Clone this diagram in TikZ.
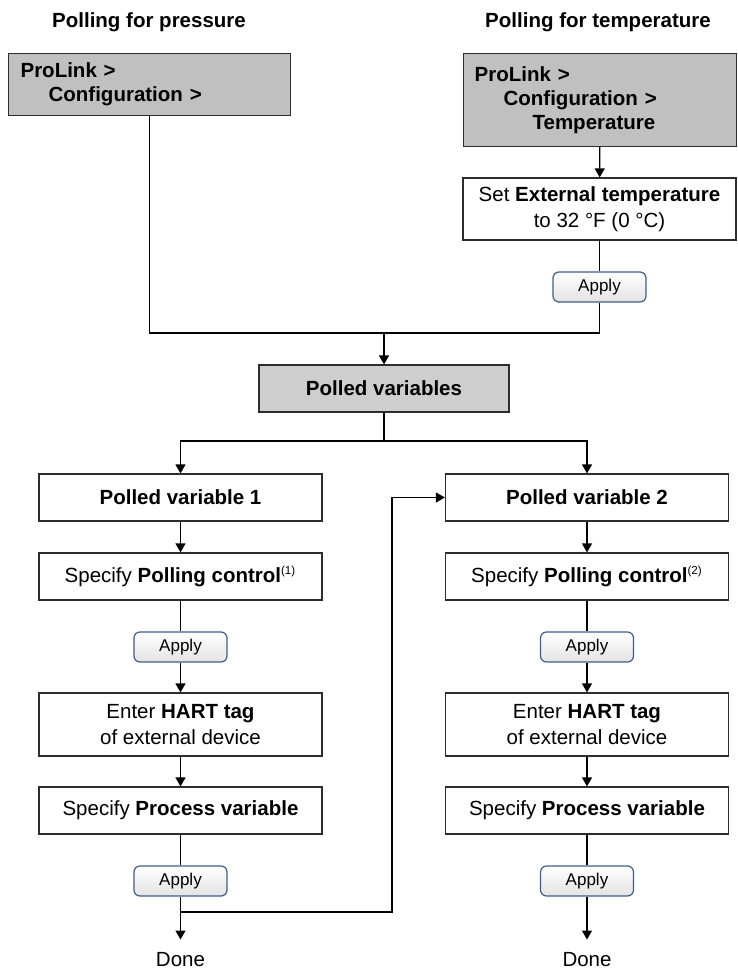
\documentclass[tikz,border=0pt]{standalone}
\usepackage{fontspec}
\setmainfont{Liberation Sans}
\usetikzlibrary{arrows.meta}
\definecolor{mongris}{RGB}{192,192,192}
\definecolor{mongrisclair}{RGB}{206,206,206}
\definecolor{monbleu}{RGB}{62,94,140}
\definecolor{montrait}{RGB}{45,45,45}
\newcommand{\taille}{\fontsize{10.25}{12}\selectfont}
\newcommand{\renvoi}[1]{\textsuperscript{\fontsize{5.8}{6}\selectfont(#1)}}
\tikzset{
	every node/.style={font=\taille},
	boite/.style={draw=montrait, line width=0.6pt, fill=white, minimum width=141.5pt, minimum height=23.5pt, align=center, inner sep=0pt, font=\fontsize{10.25}{13.25}\selectfont},
	menu/.style={draw=montrait, line width=0.6pt, fill=mongris, align=left, anchor=north west, inner xsep=6pt, inner ysep=0pt, font=\taille\bfseries},
	bouton/.style={draw=monbleu, line width=0.6pt, rounded corners=3pt, top color=white, bottom color=black!11, minimum width=46.5pt, minimum height=15pt, inner sep=0pt, font=\fontsize{8.5}{10}\selectfont},
	trait/.style={draw=black, line width=0.65pt},
	fleche/.style={trait, -{Triangle[width=5pt,length=4.5pt]}},
}

\begin{document}
\begin{tikzpicture}[x=0.5pt,y=-0.5pt]
	\useasboundingbox (0,0) rectangle (738,969);
	% Titres %
	\node[anchor=base, font=\taille\bfseries] (titrepression) at (149,27) {Polling for pressure};
	\node[anchor=base, font=\taille\bfseries] (titretemp) at (598,27) {Polling for temperature};
	% Menus ProLink %
	\node[menu, text width=129pt, minimum height=31pt] (menupression) at (8,53) {ProLink >\\\hspace*{14pt}Configuration >};
	\node[menu, text width=125.5pt, minimum height=46.5pt, inner xsep=5.5pt] (menutemp) at (463,53) {ProLink >\\\hspace*{14.5pt}Configuration >\\\hspace*{29pt}Temperature};
	\node[boite, minimum width=136.5pt, minimum height=31pt] (tempext) at (599.5,209) {Set \textbf{External temperature}\\to 32 °F (0 °C)};
	\node[bouton] (appliquertemp) at (599.5,287) {Apply};
	\coordinate (jonction) at (384,333);
	% Variables interrogees %
	\node[boite, fill=mongrisclair, minimum width=125pt, font=\taille\bfseries] (variables) at (384,388.5) {Polled variables};
	\coordinate (partage) at (384,441);
	% Colonne 1 %
	\node[boite, font=\taille\bfseries] (variable1) at (180.5,497.5) {Polled variable 1};
	\node[boite] (controle1) at (180.5,576.5) {Specify \textbf{Polling control}\renvoi{1}};
	\node[bouton] (appliquer1a) at (180.5,647) {Apply};
	\node[boite, minimum height=31.5pt] (hart1) at (180.5,724.5) {Enter \textbf{HART tag}\\of external device};
	\node[boite] (processus1) at (180.5,810.5) {Specify \textbf{Process variable}};
	\node[bouton] (appliquer1b) at (180.5,881) {Apply};
	\node[anchor=base, inner xsep=0pt, inner ysep=6pt] (fin1) at (180.5,966) {Done};
	\coordinate (retour) at (392,912);
	% Colonne 2 %
	\node[boite, font=\taille\bfseries] (variable2) at (587,497.5) {Polled variable 2};
	\node[boite] (controle2) at (587,576.5) {Specify \textbf{Polling control}\renvoi{2}};
	\node[bouton] (appliquer2a) at (587,647) {Apply};
	\node[boite, minimum height=31.5pt] (hart2) at (587,724.5) {Enter \textbf{HART tag}\\of external device};
	\node[boite] (processus2) at (587,810.5) {Specify \textbf{Process variable}};
	\node[bouton] (appliquer2b) at (587,881) {Apply};
	\node[anchor=base, inner xsep=0pt, inner ysep=6pt] (fin2) at (587,966) {Done};
	% Liaisons %
	\draw[fleche] (menutemp) -- (tempext);
	\draw[trait] (tempext) -- (appliquertemp);
	\draw[trait] (menupression.south) |- (jonction) -| (appliquertemp.south);
	\draw[fleche] (jonction) -- (variables);
	\draw[trait] (variables) -- (partage);
	\draw[fleche] (partage) -| (variable1);
	\draw[fleche] (partage) -| (variable2);
	\draw[fleche] (variable1) -- (controle1);
	\draw[trait] (controle1) -- (appliquer1a);
	\draw[fleche] (appliquer1a) -- (hart1);
	\draw[fleche] (hart1) -- (processus1);
	\draw[trait] (processus1) -- (appliquer1b);
	\draw[fleche] (appliquer1b) -- (fin1);
	\draw[fleche] (appliquer1b.south |- retour) -- (retour) |- (variable2);
	\draw[fleche] (variable2) -- (controle2);
	\draw[trait] (controle2) -- (appliquer2a);
	\draw[fleche] (appliquer2a) -- (hart2);
	\draw[fleche] (hart2) -- (processus2);
	\draw[trait] (processus2) -- (appliquer2b);
	\draw[fleche] (appliquer2b) -- (fin2);
\end{tikzpicture}
\end{document}
